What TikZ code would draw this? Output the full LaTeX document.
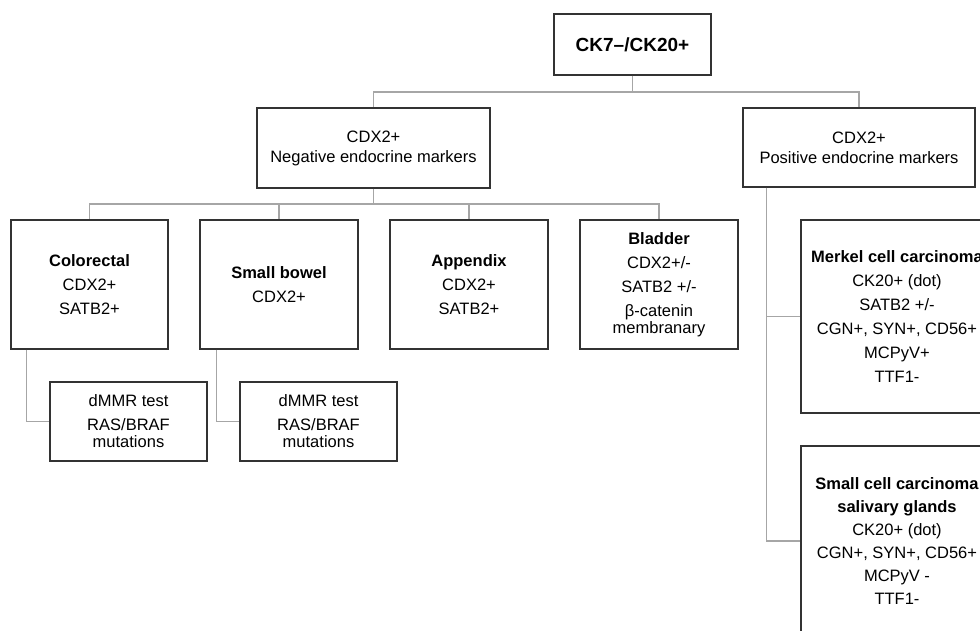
\documentclass[tikz,border=0pt]{standalone}
\usepackage{fontspec}
\setmainfont{Liberation Sans}
\begin{document}
\begin{tikzpicture}[x=1pt,y=-1pt,
  box/.style={draw=black!80,line width=1.3pt,fill=white,align=center,inner sep=0pt,
    font=\fontsize{16.5}{24}\selectfont},
  conn/.style={draw=black!35,line width=1.4pt}]
\path[use as bounding box] (0,0) rectangle (980,630);
\clip (0,0) rectangle (980,630);
\fill[white] (0,0) rectangle (980,630);
% nodes
\node[box,minimum width=157pt,minimum height=61pt,font=\fontsize{19}{23}\selectfont\bfseries] (top) at (632.5,44.5) {CK7--/CK20+};
\node[box,minimum width=233pt,minimum height=80pt,font=\fontsize{16.5}{20}\selectfont] (neg) at (373.5,148) {CDX2+\\Negative endocrine markers};
\node[box,minimum width=232pt,minimum height=79pt,font=\fontsize{16.5}{20}\selectfont] (pos) at (859,147.5) {CDX2+\\Positive endocrine markers};
\node[box,minimum width=157pt,minimum height=129pt] (col) at (89.5,284.5) {\textbf{Colorectal}\\CDX2+\\SATB2+};
\node[box,minimum width=158pt,minimum height=129pt] (sb) at (279,284.5) {\textbf{Small bowel}\\CDX2+};
\node[box,minimum width=158pt,minimum height=129pt] (app) at (469,284.5) {\textbf{Appendix}\\CDX2+\\SATB2+};
\node[box,minimum width=158pt,minimum height=129pt] (bla) at (659,284.5) {\textbf{Bladder}\\CDX2+/-\\SATB2 +/-\\β-catenin\\[-7pt]membranary};
\node[box,minimum width=157pt,minimum height=79pt] (d1) at (128.5,421.5) {dMMR test\\RAS/BRAF\\[-7pt]mutations};
\node[box,minimum width=157pt,minimum height=79pt] (d2) at (318.5,421.5) {dMMR test\\RAS/BRAF\\[-7pt]mutations};
\node[box,minimum width=192pt,minimum height=193pt] (mer) at (897,316.5) {\textbf{Merkel cell carcinoma}\\CK20+ (dot)\\SATB2 +/-\\CGN+, SYN+, CD56+\\MCPyV+\\TTF1-};
\node[box,minimum width=192pt,minimum height=190pt,font=\fontsize{16.5}{23}\selectfont] (sc) at (897,541) {\textbf{Small cell carcinoma}\\\textbf{salivary glands}\\CK20+ (dot)\\CGN+, SYN+, CD56+\\MCPyV -\\TTF1-};
% connectors
\coordinate (j1) at (632.5,92);
\coordinate (j2) at (373.5,204);
\draw[conn] (top.south) -- (j1) -| (neg.north);
\draw[conn] (j1) -| (pos.north);
\draw[conn] (neg.south) -- (j2) -| (col.north);
\draw[conn] (j2) -| (sb.north);
\draw[conn] (j2) -| (app.north);
\draw[conn] (j2) -| (bla.north);
\draw[conn] ([xshift=16pt]col.south west) |- (d1.west);
\draw[conn] ([xshift=17pt]sb.south west) |- (d2.west);
\draw[conn] ([xshift=24pt]pos.south west) |- (mer.west);
\draw[conn] ([xshift=24pt]pos.south west) |- (sc.west);
\end{tikzpicture}
\end{document}
